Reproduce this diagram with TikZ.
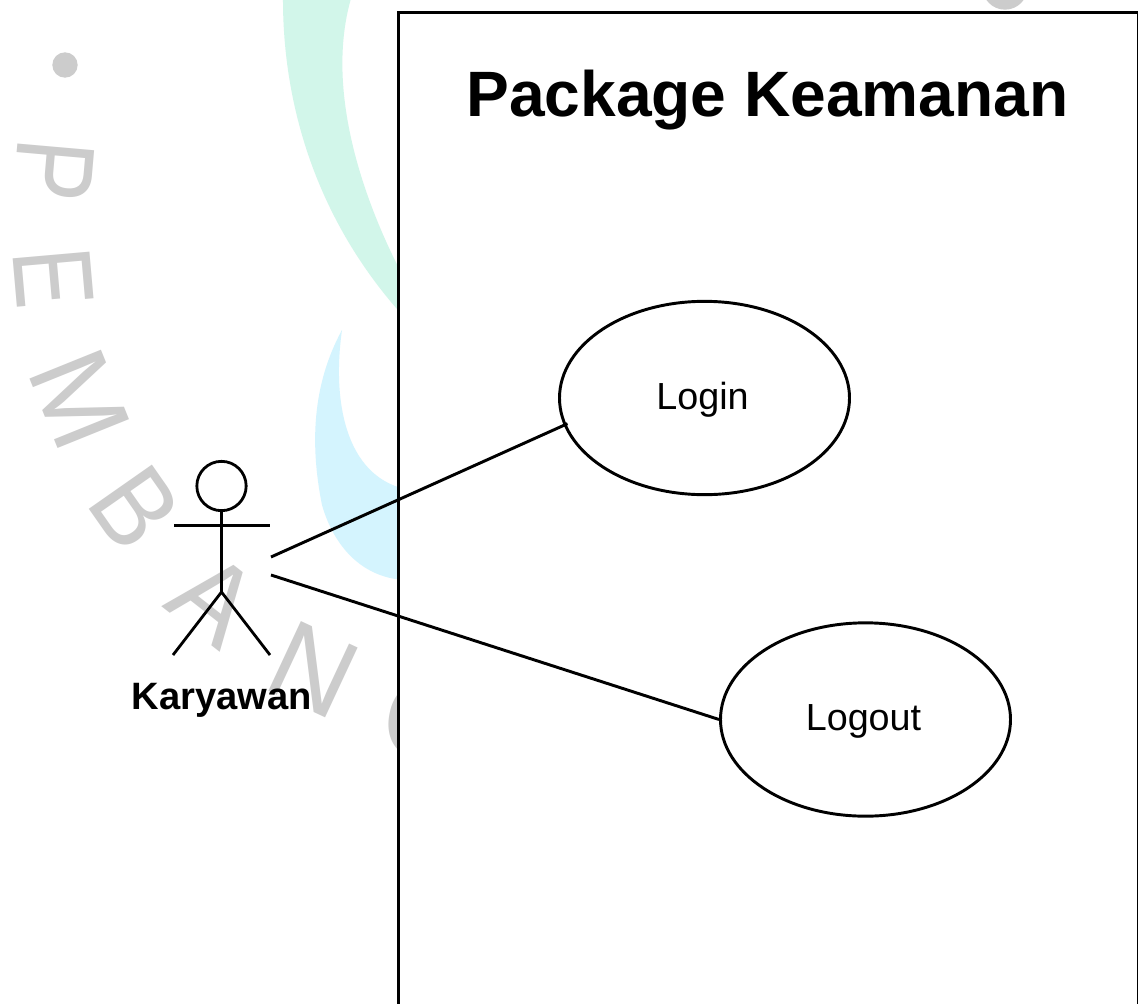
\documentclass[tikz,border=0pt]{standalone}
\usepackage{fontspec}
\setmainfont{Liberation Sans}
\usetikzlibrary{shapes.geometric}
\definecolor{wmgrey}{HTML}{CCCCCC}
\definecolor{wmmint}{HTML}{D2F6EA}
\definecolor{wmblue}{HTML}{D4F4FE}
\newcommand{\ucnudge}[1]{\raisebox{-1.6pt}[\height][\depth]{\kern-3pt #1}}
\tikzset{
  wmletter/.style={inner sep=0pt,text=wmgrey,font=\fontsize{84}{84}\selectfont,anchor=center},
  usecase/.style={ellipse,draw=black,line width=2.2pt,fill=white,inner sep=0pt,minimum width=217.5pt,minimum height=145pt,font=\fontsize{28.3}{30}\selectfont},
  container/.style={rectangle,draw=black,line width=2pt,fill=white,inner sep=0pt,anchor=north west},
  limb/.style={draw=black,line width=2.1pt},
  assoc/.style={draw=black,line width=2.2pt}
}
\begin{document}
\begin{tikzpicture}[x=0.75pt,y=-0.75pt]
\useasboundingbox (0,0) rectangle (1138,1003);
\clip (0,0) rectangle (1138,1003);
\fill[white] (0,0) rectangle (1138,1003);
% watermark
\fill[wmmint] (283,-5) .. controls (282,110) and (320,225) .. (405,318) -- (405,280) .. controls (365,205) and (323,90) .. (352,-5) -- cycle;
\fill[wmblue] (342,330) .. controls (312,385) and (310,445) .. (322,505) .. controls (335,550) and (365,578) .. (405,580) -- (405,489) .. controls (345,475) and (332,400) .. (342,330) -- cycle;
\fill[wmgrey] (65,65) circle[radius=9.5pt];
\fill[wmgrey] (1005,-13) circle[radius=17pt];
\node[wmletter,rotate=-95] (lp) at (54,170) {\scalebox{0.82}[1]{P}};
\node[wmletter,rotate=-85] (le) at (53,278) {\scalebox{0.8}[1]{E}};
\node[wmletter,rotate=-68] (lm) at (80,399) {M};
\node[wmletter,rotate=-55] (lb) at (135,508) {\scalebox{0.9}[1]{B}};
\node[wmletter,rotate=-38] (la) at (215,599) {A};
\node[wmletter,rotate=-25] (ln) at (313,670) {N};
\node[wmletter,rotate=-10] (lg) at (427,722) {G};
% package
\node[container,minimum width=555pt,minimum height=800pt] (pkg) at (397,11) {};
\node[inner sep=0pt,font=\fontsize{48.1}{50}\bfseries\selectfont] (title) at (767.5,100) {Package Keamanan};
% use cases
\node[usecase] (login) at (704.5,398) {\ucnudge{Login}};
\node[usecase] (logout) at (865.5,719.5) {\ucnudge{Logout}};
% actor
\draw[limb] (221.5,486) circle[radius=18.5pt];
\coordinate (neck) at (221.5,510.5);
\coordinate (hip) at (221.5,592);
\coordinate (handl) at (174,525.5);
\coordinate (handr) at (270,525.5);
\coordinate (footl) at (173,655);
\coordinate (footr) at (270,655);
\draw[limb] (neck) -- (hip);
\draw[limb] (handl) -- (handr);
\draw[limb] (footl) -- (hip) -- (footr);
\node[inner sep=0pt,font=\fontsize{28.6}{30}\bfseries\selectfont] (actor) at (222,700) {Karyawan};
% associations
\coordinate (a1) at (271,557);
\coordinate (a2) at (271,575);
\draw[assoc,shorten >=-3pt] (a1) -- (login.191);
\draw[assoc] (a2) -- (logout.west);
\end{tikzpicture}
\end{document}
